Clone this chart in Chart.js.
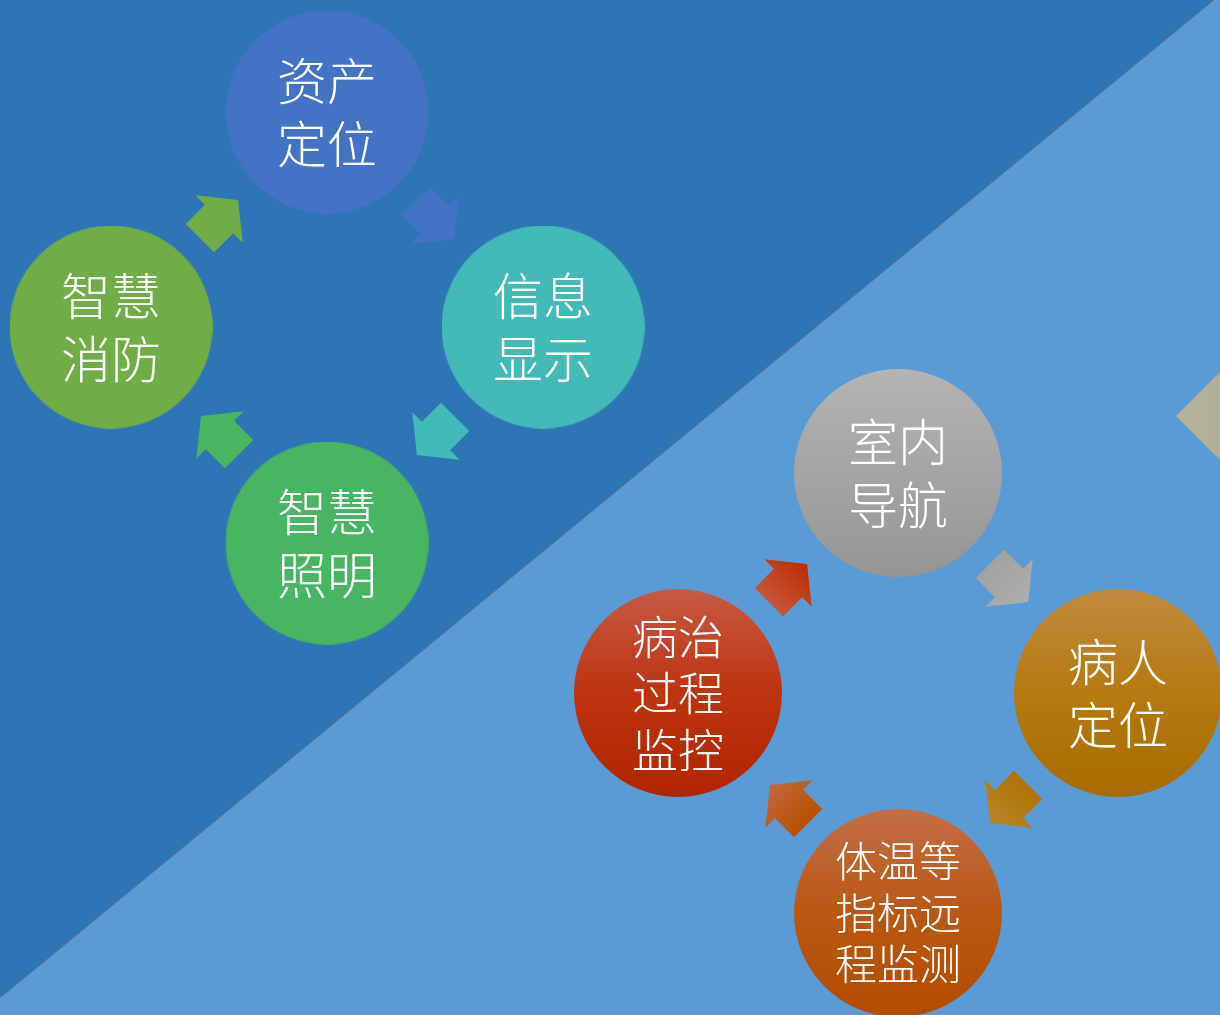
<!DOCTYPE html>
<html><head><meta charset="utf-8">
<script src="https://cdn.jsdelivr.net/npm/chart.js@4"></script>
<style>html,body{margin:0;padding:0;background:#5B9BD5;overflow:hidden}#wrap{width:1220px;height:1015px;position:relative}</style>
</head><body><div id="wrap"><canvas id="c"></canvas></div>
<script>
// ---- data ----
const circleLabels = [['资产','定位'],['信息','显示'],['智慧','照明'],['智慧','消防'],['室内','导航'],['病人','定位'],['体温等','指标远','程监测'],['病治','过程','监控']];
const circleX = [327,543,327,111,898,1118,898,678];
const circleY = [112,327,543,327,473,693,913,693];
const arrowX = [435,436,220,219,1009,1009,789,788];
const arrowY = [220,436,435,219,583,804,804,583];
const arrowAngle = [45,135,225,315,45,135,225,315];
const dividerX = [0,1220];
const dividerY = [997,-6];
const edgeX = [1236];
const edgeY = [416];

// ---- styles ----
const circleStyles = [
  {r:101.5, stops:[[0,'#4472C4'],[1,'#4472C4']]},
  {r:101.5, stops:[[0,'#44BAB8'],[1,'#44BAB8']]},
  {r:101.5, stops:[[0,'#47B562'],[1,'#47B562']]},
  {r:101.5, stops:[[0,'#71AD47'],[1,'#71AD47']]},
  {r:104, stops:[[0,'#B4B4B4'],[1,'#959595']]},
  {r:104, stops:[[0,'#C18B3E'],[0.5,'#B57A10'],[1,'#A86C00']]},
  {r:104, stops:[[0,'#C26E48'],[0.5,'#BA5712'],[1,'#B24C00']]},
  {r:104, stops:[[0,'#C65A44'],[0.5,'#BE3310'],[1,'#B02600']]}
];
const arrowColors = [
  ['#4472C4','#4472C4'],['#44BAB8','#44BAB8'],['#47B562','#47B562'],['#71AD47','#71AD47'],
  ['#A2A2A2','#AEAEAE'],['#AE7400','#B8852A'],['#B85200','#C2683C'],['#C4563A','#BB2E00']
];

function circleImg(s){
  const r=s.r, d=Math.ceil(2*r);
  const c=document.createElement('canvas'); c.width=c.height=d;
  const g=c.getContext('2d');
  const gr=g.createLinearGradient(0,0,0,d);
  s.stops.forEach(([o,col])=>gr.addColorStop(o,col));
  g.fillStyle=gr; g.beginPath(); g.arc(d/2,d/2,r,0,Math.PI*2); g.fill();
  return c;
}
function arrowImg(angle, cols){
  const S=90;
  const c=document.createElement('canvas'); c.width=c.height=S;
  const g=c.getContext('2d');
  g.translate(S/2,S/2); g.rotate(angle*Math.PI/180);
  const gr=g.createLinearGradient(-27,0,27,0);
  gr.addColorStop(0,cols[0]); gr.addColorStop(1,cols[1]);
  g.fillStyle=gr;
  g.beginPath();
  g.moveTo(-27,-20); g.lineTo(0,-20); g.lineTo(0,-33.5); g.lineTo(27,0);
  g.lineTo(0,33.5); g.lineTo(0,20); g.lineTo(-27,20); g.closePath(); g.fill();
  return c;
}
function diamondImg(){
  const h=60, S=2*h;
  const c=document.createElement('canvas'); c.width=c.height=S;
  const g=c.getContext('2d');
  const gr=g.createLinearGradient(0,0,S,0);
  gr.addColorStop(0,'#B3B49A'); gr.addColorStop(1,'#ABA991');
  g.fillStyle=gr;
  g.beginPath(); g.moveTo(0,h); g.lineTo(h,0); g.lineTo(S,h); g.lineTo(h,S); g.closePath(); g.fill();
  return c;
}

const circleImgs = circleStyles.map(circleImg);
const arrowImgs = arrowAngle.map((a,i)=>arrowImg(a, arrowColors[i]));

const bgPlugin = {
  id:'bg',
  beforeDraw(chart){
    const ctx=chart.ctx; ctx.save(); ctx.fillStyle='#5B9BD5';
    ctx.fillRect(0,0,chart.width,chart.height); ctx.restore();
  }
};
const labelPlugin = {
  id:'labels',
  afterDatasetsDraw(chart){
    const meta=chart.getDatasetMeta(2);
    const ctx=chart.ctx;
    ctx.save();
    ctx.fillStyle='#FFFFFF'; ctx.textAlign='center'; ctx.textBaseline='middle';
    meta.data.forEach((pt,i)=>{
      const lines=circleLabels[i];
      const maxChars=Math.max(...lines.map(l=>l.length));
      let fs=50, lh=63;
      if(lines.length===3){ if(maxChars===3){fs=42;lh=51.5;} else {fs=46;lh=56.5;} }
      ctx.font='300 '+fs+'px "Noto Sans CJK SC", "Noto Sans CJK JP", sans-serif';
      const y0=pt.y-(lines.length-1)*lh/2;
      lines.forEach((l,j)=>ctx.fillText(l, pt.x, y0+j*lh));
    });
    ctx.restore();
  }
};

new Chart(document.getElementById('c'), {
  type:'scatter',
  data:{
    datasets:[
      { type:'line', order:5,
        data: dividerX.map((x,i)=>({x, y:dividerY[i]})),
        borderColor:'#44719E', borderWidth:2, pointRadius:0,
        backgroundColor:'#2E75B6', fill:{value:0} },
      { order:3,
        data: arrowX.map((x,i)=>({x, y:arrowY[i]})),
        pointStyle: arrowImgs, pointRadius: 45 },
      { order:1,
        data: circleX.map((x,i)=>({x, y:circleY[i]})),
        pointStyle: circleImgs, pointRadius: 104 },
      { order:4,
        data: edgeX.map((x,i)=>({x, y:edgeY[i]})),
        pointStyle: diamondImg(), pointRadius: 60 }
    ]
  },
  options:{
    responsive:true, maintainAspectRatio:false, animation:false, events:[],
    layout:{padding:0, autoPadding:false},
    scales:{
      x:{type:'linear', min:0, max:1220, display:false},
      y:{type:'linear', min:0, max:1015, reverse:true, display:false}
    },
    plugins:{legend:{display:false}, tooltip:{enabled:false}}
  },
  plugins:[bgPlugin, labelPlugin]
});
</script>
</body></html>
